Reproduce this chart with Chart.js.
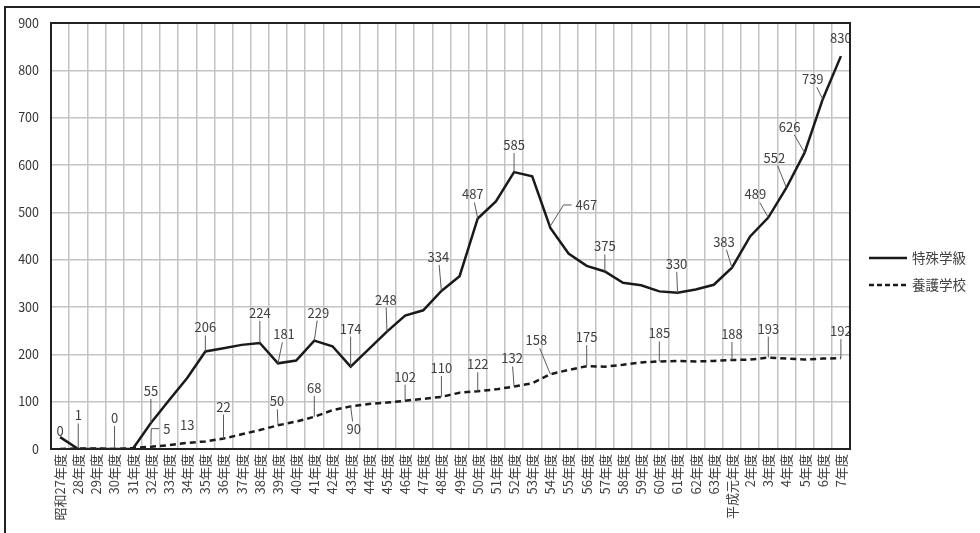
<!DOCTYPE html>
<html lang="ja">
<head>
<meta charset="UTF-8">
<title>特殊学級・養護学校の推移</title>
<script src="https://cdn.jsdelivr.net/npm/chart.js"></script>
<style>
    body { margin: 0; background: #fff; }
    .wrap { position: relative; width: 980px; height: 533px; overflow: hidden; }
    .frame { position: absolute; left: 4px; top: 6px; width: 1100px; height: 700px;
             border-left: 2px solid #222; border-top: 2px solid #222; }
    canvas { position: absolute; left: 0; top: 0; }
</style>
</head>
<body>
<div class="wrap">
    <div class="frame"></div>
    <canvas id="chart" width="980" height="533"></canvas>
</div>
<script>
// 年度
const categories = ['昭和27年度', '28年度', '29年度', '30年度', '31年度', '32年度', '33年度', '34年度',
    '35年度', '36年度', '37年度', '38年度', '39年度', '40年度', '41年度', '42年度', '43年度', '44年度',
    '45年度', '46年度', '47年度', '48年度', '49年度', '50年度', '51年度', '52年度', '53年度', '54年度',
    '55年度', '56年度', '57年度', '58年度', '59年度', '60年度', '61年度', '62年度', '63年度',
    '平成元年度', '2年度', '3年度', '4年度', '5年度', '6年度', '7年度'];

// 特殊学級
const special = [25, 0, 0, 0, 0, 55, 103, 150, 206, 213, 220, 224, 181, 187, 229, 217, 174, 211,
    248, 282, 293, 334, 365, 487, 523, 585, 576, 467, 413, 387, 375, 351, 346, 333, 330, 337, 347,
    383, 449, 489, 552, 626, 739, 830];

// 養護学校
const yougo = [0, 1, 1, 0, 2, 5, 8, 13, 16, 22, 31, 40, 50, 58, 68, 82, 90, 95,
    98, 102, 106, 110, 119, 122, 126, 132, 139, 158, 167, 175, 174, 178, 183, 185, 186, 185, 186,
    188, 189, 193, 191, 189, 191, 192];

const seriesNames = ['特殊学級', '養護学校'];

// ラベル配置: [系列, 年度index, dx, dy, 引出線 0=なし 1=直線 2=折れ線]
const labelSpots = [
    [1, 0, 0, -18, 0], [1, 1, 0, -33, 1], [1, 3, 0, -31, 1], [0, 5, 0, -32, 1],
    [1, 5, 16, -18, 2], [1, 7, 0, -18, 0], [0, 8, 0, -24, 1], [0, 11, 0, -30, 1],
    [0, 12, 6, -29, 1], [0, 14, 4, -28, 1], [1, 9, 0, -32, 1], [1, 12, -1, -24, 1],
    [1, 14, 0, -29, 1], [0, 16, 0, -38, 1], [0, 18, -1, -32, 1], [1, 16, 3, 23, 1],
    [1, 19, 0, -24, 1], [1, 21, 0, -29, 1], [0, 21, -3, -34, 1], [1, 23, 0, -27, 1],
    [0, 23, -5, -24, 1], [1, 25, -2, -28, 1], [0, 25, 0, -27, 1], [1, 27, -14, -34, 1],
    [0, 27, 36, -23, 2], [1, 29, 0, -29, 1], [0, 30, 0, -25, 1], [1, 33, 0, -28, 1],
    [0, 34, -1, -29, 1], [1, 37, 0, -26, 1], [0, 37, -8, -26, 1], [1, 39, 0, -29, 1],
    [1, 43, 0, -27, 1], [0, 39, -13, -23, 1], [0, 40, -12, -30, 1], [0, 41, -15, -26, 1],
    [0, 42, -10, -20, 1], [0, 43, 0, -18, 0]
];

const FONT = '"Noto Sans CJK JP", "Noto Sans", sans-serif';

// 値ラベルと引出線
const valueLabels = {
    id: 'valueLabels',
    afterDatasetsDraw(chart) {
        const ctx = chart.ctx;
        ctx.save();
        ctx.font = '13px ' + FONT;
        ctx.textAlign = 'center';
        ctx.textBaseline = 'middle';
        labelSpots.forEach(([ds, i, dx, dy, kind]) => {
            const pt = chart.getDatasetMeta(ds).data[i];
            const txt = String(chart.data.datasets[ds].data[i]);
            const cx = pt.x + dx, cy = pt.y + dy;
            const hw = ctx.measureText(txt).width / 2 + 2, hh = 8;
            ctx.strokeStyle = '#595959';
            ctx.lineWidth = 1;
            ctx.setLineDash([]);
            if (kind === 1) {
                const s = Math.min(dy ? hh / Math.abs(dy) : Infinity, dx ? hw / Math.abs(dx) : Infinity);
                ctx.beginPath();
                ctx.moveTo(cx + s * (pt.x - cx), cy + s * (pt.y - cy));
                ctx.lineTo(pt.x, pt.y);
                ctx.stroke();
            } else if (kind === 2) {
                const left = cx - hw;
                ctx.beginPath();
                ctx.moveTo(pt.x, pt.y - 2);
                ctx.lineTo(left - 10, cy);
                ctx.lineTo(left - 2, cy);
                ctx.stroke();
            }
            ctx.fillStyle = '#404040';
            ctx.fillText(txt, cx, cy);
        });
        ctx.restore();
    },
    afterDraw(chart) {
        const ctx = chart.ctx;
        const a = chart.chartArea;
        ctx.save();
        // プロット枠
        ctx.strokeStyle = '#222';
        ctx.lineWidth = 2;
        ctx.strokeRect(a.left, a.top, a.right - a.left, a.bottom - a.top);
        // 凡例
        ctx.font = '13.5px ' + FONT;
        ctx.textBaseline = 'middle';
        ctx.textAlign = 'left';
        [[258, []], [285, [5, 3]]].forEach(([y, dash], k) => {
            ctx.strokeStyle = '#1a1a1a';
            ctx.lineWidth = 2.5;
            ctx.setLineDash(dash);
            ctx.beginPath();
            ctx.moveTo(869, y);
            ctx.lineTo(907, y);
            ctx.stroke();
            ctx.fillStyle = '#404040';
            ctx.fillText(seriesNames[k], 912, y);
        });
        ctx.restore();
    }
};

new Chart(document.getElementById('chart'), {
    type: 'line',
    data: {
        labels: categories,
        datasets: [{
            label: seriesNames[0],
            data: special,
            borderColor: '#1a1a1a',
            borderWidth: 2.5,
            pointRadius: 0,
            tension: 0
        }, {
            label: seriesNames[1],
            data: yougo,
            borderColor: '#1a1a1a',
            borderWidth: 2.5,
            borderDash: [6, 4],
            pointRadius: 0,
            tension: 0
        }]
    },
    options: {
        responsive: false,
        animation: false,
        layout: { padding: { left: 0, top: 23, right: 130, bottom: 0 } },
        plugins: { legend: { display: false }, tooltip: { enabled: false } },
        scales: {
            x: {
                offset: true,
                grid: { offset: true, color: '#c4c4c4', lineWidth: 1.5, drawTicks: false },
                border: { display: false },
                ticks: {
                    autoSkip: false, minRotation: 90, maxRotation: 90, padding: 5,
                    color: '#404040', font: { family: FONT, size: 13 }
                },
                afterFit(s) { s.height = 84; }
            },
            y: {
                min: 0, max: 900,
                grid: { color: '#c4c4c4', lineWidth: 1.5, drawTicks: false },
                border: { display: false },
                ticks: {
                    stepSize: 100, padding: 12,
                    color: '#333', font: { family: FONT, size: 12.5 }
                },
                afterFit(s) { s.width = 51; }
            }
        }
    },
    plugins: [valueLabels]
});
</script>
</body>
</html>
